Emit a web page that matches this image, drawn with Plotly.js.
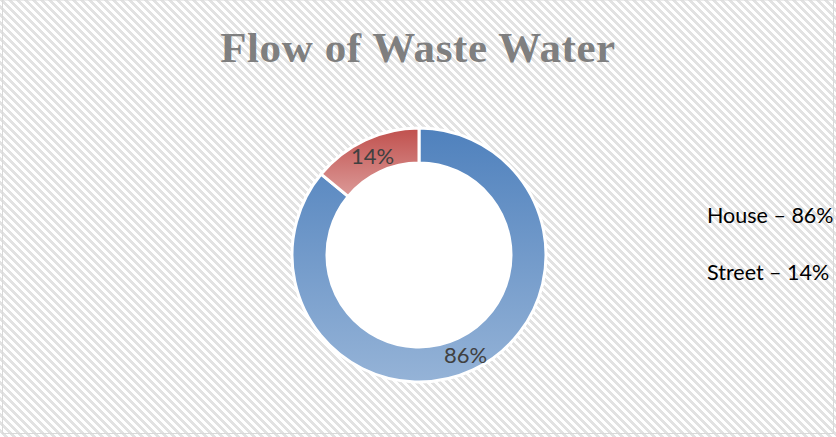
<!DOCTYPE html>
<html>
<head>
<meta charset="utf-8">
<script src="https://cdn.plot.ly/plotly-3.0.1.min.js"></script>
<style>
html,body{margin:0;padding:0;}
body{width:836px;height:437px;overflow:hidden;
background:repeating-linear-gradient(45deg,#ffffff 0px,#ffffff 2.9px,#e2e2e2 2.9px,#e2e2e2 5.66px);}
#chart{width:836px;height:437px;}
.gtitle{letter-spacing:0.6px;}
</style>
</head>
<body>
<div id="chart"></div>
<script>
const categories = ["House", "Street"];
const values = [86, 14];
const titleText = "Flow of Waste Water";
const gradTop = ["#4f81bd", "#c0504d"];
const gradBottom = ["#95b3d7", "#dc9a98"];

const W = 836, H = 437;
const cx = 419, cy = 255, rOut = 127, rIn = 92;

const trace = {
  type: "pie",
  labels: categories,
  values: values,
  sort: false,
  direction: "clockwise",
  rotation: 0,
  hole: rIn / rOut,
  marker: {colors: gradTop, line: {color: "#ffffff", width: 3}},
  textinfo: "none",
  domain: {x: [(cx - rOut) / W, (cx + rOut) / W], y: [(H - cy - rOut) / H, (H - cy + rOut) / H]},
  showlegend: false,
  hoverinfo: "none"
};

const total = values.reduce((a, b) => a + b, 0);
let cum = 0;
const rMid = (rOut + rIn) / 2;
const labelAnn = values.map(v => {
  const mid = (cum + v / 2) / total * 2 * Math.PI;
  cum += v;
  const px = cx + rMid * Math.sin(mid);
  const py = cy - rMid * Math.cos(mid);
  return {
    text: Math.round(v / total * 100) + "%",
    xref: "paper", yref: "paper", x: px / W, y: 1 - py / H,
    xanchor: "center", yanchor: "middle", showarrow: false,
    font: {family: "Lato, 'Liberation Sans', sans-serif", size: 22, color: "#404040"}
  };
});

const legendAnn = categories.map((c, i) => ({
  text: c + " \u2013 " + values[i] + "%",
  xref: "paper", yref: "paper",
  x: 705 / W, y: 1 - [215, 272][i] / H,
  xanchor: "left", yanchor: "middle",
  showarrow: false,
  font: {family: "Lato, 'Liberation Sans', sans-serif", size: 21.5, color: "#000000"}
}));

const layout = {
  width: W, height: H,
  margin: {l: 0, r: 0, t: 0, b: 0},
  paper_bgcolor: "rgba(0,0,0,0)",
  title: {
    text: "<b>" + titleText + "</b>",
    x: 0.5, xanchor: "center",
    y: 1 - 47 / H, yref: "container", yanchor: "middle",
    font: {family: "'Liberation Serif', 'DejaVu Serif', serif", size: 43, color: "#7f7f7f"}
  },
  shapes: [
    {type: "rect", xref: "paper", yref: "paper", x0: 2.5 / W, x1: 833.5 / W, y0: 1 - 433.5 / H, y1: 1,
     line: {color: "#d9d9d9", width: 1}, fillcolor: "rgba(0,0,0,0)", layer: "below"},
    {type: "circle", xref: "paper", yref: "paper", x0: (cx - rIn) / W, x1: (cx + rIn) / W,
     y0: (H - cy - rIn) / H, y1: (H - cy + rIn) / H, line: {width: 0}, fillcolor: "#ffffff", layer: "below"}
  ],
  annotations: labelAnn.concat(legendAnn)
};

Plotly.newPlot("chart", [trace], layout, {staticPlot: true}).then(gd => {
  const svg = gd.querySelector("svg.main-svg");
  let defs = svg.querySelector("defs");
  const ns = "http://www.w3.org/2000/svg";
  if (!defs) { defs = document.createElementNS(ns, "defs"); svg.insertBefore(defs, svg.firstChild); }
  categories.forEach((c, i) => {
    const g = document.createElementNS(ns, "linearGradient");
    g.setAttribute("id", "sliceGrad" + i);
    g.setAttribute("x1", "0"); g.setAttribute("y1", "0");
    g.setAttribute("x2", "0"); g.setAttribute("y2", "1");
    const s1 = document.createElementNS(ns, "stop");
    s1.setAttribute("offset", "0"); s1.setAttribute("stop-color", gradTop[i]);
    const s2 = document.createElementNS(ns, "stop");
    s2.setAttribute("offset", "1"); s2.setAttribute("stop-color", gradBottom[i]);
    g.appendChild(s1); g.appendChild(s2);
    defs.appendChild(g);
  });
  gd.querySelectorAll("g.slice path.surface").forEach((p, i) => {
    p.style.fill = "url(#sliceGrad" + i + ")";
  });
});
</script>
</body>
</html>
